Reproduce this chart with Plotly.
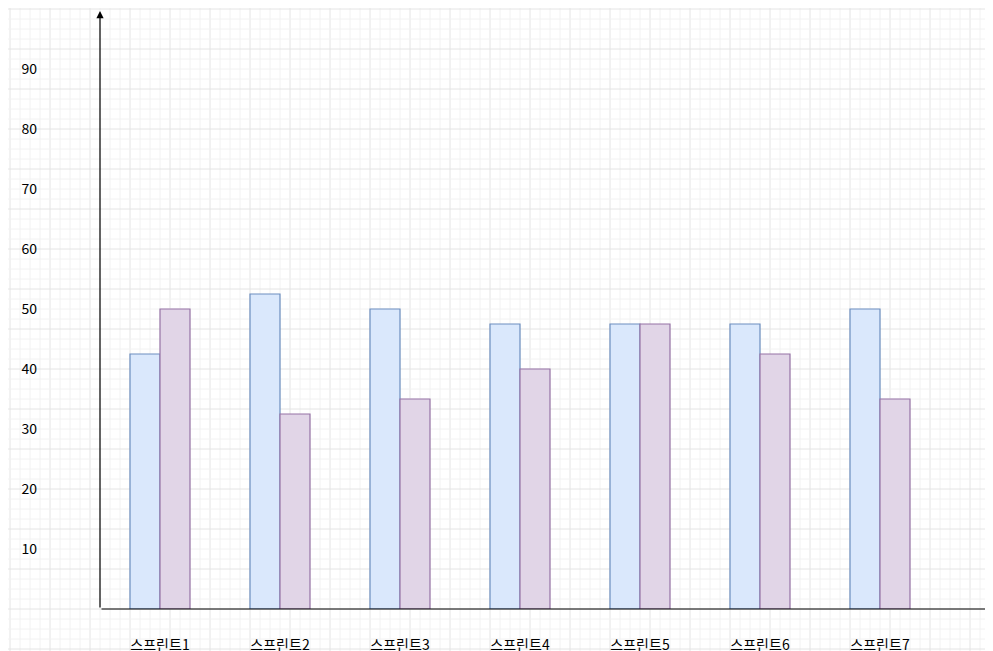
import plotly.graph_objects as go

sprints = ["스프린트1", "스프린트2", "스프린트3", "스프린트4", "스프린트5", "스프린트6", "스프린트7"]
series_a = [42.5, 52.5, 50, 47.5, 47.5, 47.5, 50]
series_b = [50, 32.5, 35, 40, 47.5, 42.5, 35]
y_ticks = [10, 20, 30, 40, 50, 60, 70, 80, 90]

W, H = 993, 651
pos = list(range(len(sprints)))

fig = go.Figure()
fig.add_bar(x=pos, y=series_a, width=0.25, offset=-0.25,
            marker=dict(color="#dae8fc", line=dict(color="#6c8ebf", width=1.2)))
fig.add_bar(x=pos, y=series_b, width=0.25, offset=0,
            marker=dict(color="#e1d5e7", line=dict(color="#9673a6", width=1.2)))

# background grid (draw.io style)
shapes = []
for i, px in enumerate(range(2, W, 10)):
    c = "#e4e4e4" if i % 4 == 0 else "#f2f2f2"
    shapes.append(dict(type="line", xref="paper", yref="paper", layer="below",
                       x0=(px - 92) / (W - 92), x1=(px - 92) / (W - 92), y0=-50 / 601, y1=1,
                       line=dict(color=c, width=1)))
for i, py in enumerate(range(1, H, 10)):
    c = "#e4e4e4" if i % 4 == 0 else "#f2f2f2"
    yy = (601 - py) / 601
    shapes.append(dict(type="line", xref="paper", yref="paper", layer="below",
                       x0=-92 / (W - 92), x1=1, y0=yy, y1=yy,
                       line=dict(color=c, width=1)))

annotations = [
    dict(xref="paper", yref="paper", x=0, y=(601 - 3) / 601, ax=0, ay=598,
         axref="pixel", ayref="pixel", showarrow=True, arrowhead=2, arrowsize=1.2,
         arrowwidth=1.2, arrowcolor="black", text=""),
    dict(xref="paper", yref="paper", x=(990 - 92) / (W - 92), y=0, ax=-898, ay=0,
         axref="pixel", ayref="pixel", showarrow=True, arrowhead=2, arrowsize=1.2,
         arrowwidth=1.2, arrowcolor="black", text=""),
]

fig.update_layout(
    width=W, height=H, showlegend=False,
    margin=dict(l=92, r=0, t=0, b=50),
    paper_bgcolor="white", plot_bgcolor="rgba(0,0,0,0)",
    font=dict(family="Noto Sans CJK KR, Liberation Sans", size=14, color="black"),
    shapes=shapes, annotations=annotations,
    xaxis=dict(range=[-0.5, (W - 152) / 120], tickvals=pos, ticktext=sprints,
               showgrid=False, zeroline=False, showline=False, ticks="",
               ticklabelstandoff=26, fixedrange=True),
    yaxis=dict(range=[0, 601 / 6], tickvals=y_ticks, showgrid=False, zeroline=False,
               showline=False, ticks="", ticklabelstandoff=62, fixedrange=True),
)

fig.write_html("out.html")
